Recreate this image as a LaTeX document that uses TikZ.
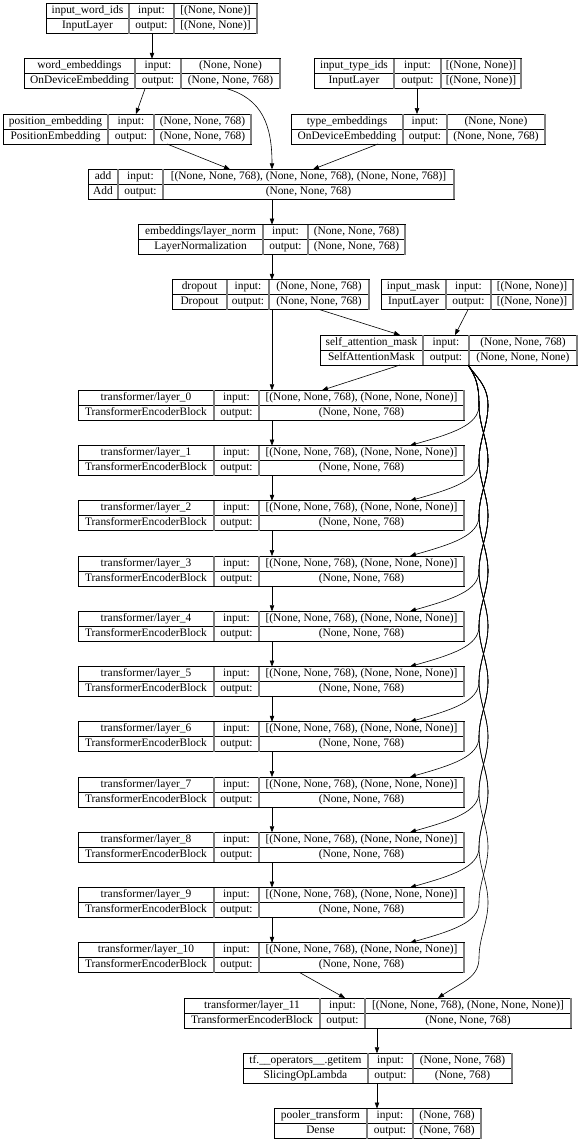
\documentclass[tikz,border=0pt]{standalone}
\usepackage{fontspec}
\setmainfont{Liberation Serif}
\usetikzlibrary{arrows.meta}
\def\kbparse#1/#2/#3/#4/#5\relax{\def\kbL{#1}\pgfmathsetmacro\kbT{3.5+55.25*#2}\def\kbA{#3}\def\kbB{#4}\def\kbR{#5}}
\newcommand\kbox[6]{%
  \kbparse#2\relax
  \pgfmathsetmacro\kbW{\kbR-\kbL}%
  \pgfmathsetmacro\kbM{\kbT+15}%
  \pgfmathsetmacro\kbU{\kbT+7.5}%
  \pgfmathsetmacro\kbD{\kbT+22.5}%
  \pgfmathsetmacro\kbE{\kbT+30}%
  \pgfmathsetmacro\kbcA{(\kbL+\kbA)/2}%
  \pgfmathsetmacro\kbcB{(\kbA+\kbB)/2}%
  \pgfmathsetmacro\kbcC{(\kbB+\kbR)/2}%
  \node[kframe, minimum width=\kbW pt, anchor=north west] (#1) at (\kbL,\kbT) {};
  \draw[krow] (\kbL,\kbM) -- (\kbR,\kbM);
  \draw[kdiv] (\kbA,\kbT) -- (\kbA,\kbE) (\kbB,\kbT) -- (\kbB,\kbE) (\kbR,\kbT) -- (\kbR,\kbE);
  \node[ktxt] at (\kbcA,\kbU) {#3};
  \node[ktxt] at (\kbcA,\kbD) {#4};
  \node[ktxt] at (\kbcB,\kbU) {input:};
  \node[ktxt] at (\kbcB,\kbD) {output:};
  \node[ktxt] at (\kbcC,\kbU) {#5};
  \node[ktxt] at (\kbcC,\kbD) {#6};
}
\tikzset{
  kframe/.style={draw=black, line width=0.7pt, minimum height=30pt, inner sep=0pt, outer sep=0pt},
  kdiv/.style={draw=black!50, line width=1.2pt},
  krow/.style={draw=black, line width=0.7pt},
  ktxt/.style={font=\fontsize{11.4}{13}\selectfont, inner sep=0pt, text height=7.6pt, text depth=2.4pt},
  arr/.style={draw=black, line width=0.6pt, -{Triangle[length=6pt,width=4.5pt]}}
}
\begin{document}
\begin{tikzpicture}[x=1pt,y=-1pt]
\useasboundingbox (0,0) rectangle (578,1143);
\kbox{iwi}{46/0/129/174/257}{input\_word\_ids}{InputLayer}{[(None, None)]}{[(None, None)]}
\kbox{we}{24/1/135/181/280}{word\_embeddings}{OnDeviceEmbedding}{(None, None)}{(None, None, 768)}
\kbox{iti}{314/1/394/441/521}{input\_type\_ids}{InputLayer}{[(None, None)]}{[(None, None)]}
\kbox{pos}{3/2/108/154/251}{position\_embedding}{PositionEmbedding}{(None, None, 768)}{(None, None, 768)}
\kbox{te}{291/2/403/447/545}{type\_embeddings}{OnDeviceEmbedding}{(None, None)}{(None, None, 768)}
\kbox{add}{88/3/118/163/454}{add}{Add}{[(None, None, 768), (None, None, 768), (None, None, 768)]}{(None, None, 768)}
\kbox{ln}{138/4/263/308/405}{embeddings/layer\_norm}{LayerNormalization}{(None, None, 768)}{(None, None, 768)}
\kbox{do}{172/5/227/269/369}{dropout}{Dropout}{(None, None, 768)}{(None, None, 768)}
\kbox{im}{381/5/446/491/573}{input\_mask}{InputLayer}{[(None, None)]}{[(None, None)]}
\kbox{sam}{320/6/423/469/577}{self\_attention\_mask}{SelfAttentionMask}{(None, None, 768)}{(None, None, None)}
\foreach \i [evaluate=\i as \r using int(7+\i)] in {0,...,10}{
  \kbox{l\i}{78/\r/214/259/464}{transformer/layer\_\i}{TransformerEncoderBlock}{[(None, None, 768), (None, None, None)]}{(None, None, 768)}
}
\kbox{l11}{184/18/320/365/571}{transformer/layer\_11}{TransformerEncoderBlock}{[(None, None, 768), (None, None, None)]}{(None, None, 768)}
\kbox{gi}{243/19/368/413/512}{tf.\_\_operators\_\_.getitem}{SlicingOpLambda}{(None, None, 768)}{(None, 768)}
\kbox{pt}{274/20/367/413/481}{pooler\_transform}{Dense}{(None, 768)}{(None, 768)}

% connectors
\draw[arr] (iwi.south -| 152,0) -- (we.north -| 152,0);
\draw[arr] (we.south -| 145,0) -- (pos.north -| 136,0);
\draw[arr] (we.south -| 227,0) .. controls (262,99) and (272,125) .. (add.north -| 272,0);
\draw[arr] (iti.south -| 417,0) -- (te.north -| 417,0);
\draw[arr] (pos.south -| 167,0) -- (add.north -| 230,0);
\draw[arr] (te.south -| 378,0) -- (add.north -| 313,0);
\draw[arr] (add.south -| 272,0) -- (ln.north -| 272,0);
\draw[arr] (ln.south -| 272,0) -- (do.north -| 272,0);
\draw[arr] (do.south -| 272,0) -- (l0.north -| 272,0);
\draw[arr] (do.south -| 320,0) -- (sam.north -| 400,0);
\draw[arr] (im.south -| 468,0) -- (sam.north -| 455,0);
\draw[arr] (sam.south -| 400,0) -- (l0.north -| 322,0);
\foreach \i [evaluate=\i as \n using int(\i+1)] in {0,...,9}{
  \draw[arr] (l\i.south -| 272,0) -- (l\n.north -| 272,0);
}
\draw[arr] (l10.south -| 300,0) -- (l11.north -| 345,0);
\draw[arr] (l11.south -| 377,0) -- (gi.north -| 377,0);
\draw[arr] (gi.south -| 377,0) -- (pt.north -| 377,0);

\foreach \k in {1,...,11}{
  \pgfmathtruncatemacro\km{\k-1}
  \pgfmathsetmacro\tx{\k==11 ? 438 : 410}
  \pgfmathsetmacro\ty{3.5+55.25*(7+\k)}
  \pgfmathsetmacro\ly{3.5+55.25*(6+\k)+15}
  \pgfmathsetmacro\cx{\k==11 ? 462 : 452}
  \pgfmathsetmacro\cy{\k==11 ? \ty-16 : \ty-12}
  \draw[arr] (sam.south -| 468,0)
    \foreach \j [evaluate=\j as \xj using {488-9*mod(\j+\k,2)},
                 evaluate=\j as \yj using {3.5+55.25*(7+\j)+15},
                 evaluate=\j as \px using {\j==0 ? 476 : 488-9*mod(\j-1+\k,2)},
                 evaluate=\j as \py using {\j==0 ? 357 : 3.5+55.25*(6+\j)+15}] in {0,...,\km}
    { .. controls (\px,\py+20) and (\xj,\yj-20) .. (\xj,\yj) }
    .. controls (479,\ly+20) and (\cx,\cy) .. (l\k.north -| \tx,0);
}
\end{tikzpicture}
\end{document}
